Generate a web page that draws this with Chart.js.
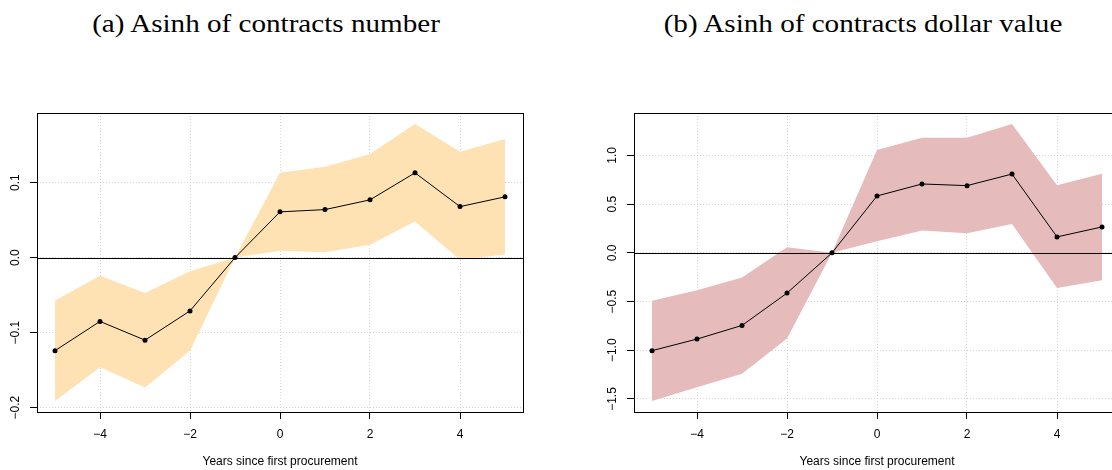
<!DOCTYPE html>
<html><head><meta charset="utf-8">
<script src="https://cdn.jsdelivr.net/npm/chart.js@4/dist/chart.umd.min.js"></script>
<style>
html,body{margin:0;padding:0;width:1112px;height:470px;overflow:hidden;background:#fff;position:relative}
.t{position:absolute;top:9px;font-family:"Liberation Serif",serif;font-size:26px;line-height:30px;white-space:nowrap;transform:translateX(-50%) scaleX(1.12);color:#000}
canvas{position:absolute;top:0}
</style></head><body>
<div class="t" style="left:266px">(a) Asinh of contracts number</div>
<div class="t" style="left:863px">(b) Asinh of contracts dollar value</div>
<canvas id="c1" width="556" height="470" style="left:0"></canvas>
<canvas id="c2" width="556" height="470" style="left:597px"></canvas>
<script>
const years = [-5,-4,-3,-2,-1,0,1,2,3,4,5];
const xTicks = [-4,-2,0,2,4];
const xTickLabels = ['\u22124','\u22122','0','2','4'];
const xTitle = 'Years since first procurement';

const numberEst   = [-0.124,-0.085,-0.110,-0.071,0,0.061,0.064,0.077,0.113,0.068,0.081];
const numberUpper = [-0.057,-0.024,-0.047,-0.018,0,0.113,0.121,0.138,0.178,0.141,0.158];
const numberLower = [-0.191,-0.146,-0.173,-0.124,0,0.009,0.007,0.017,0.048,-0.003,0.004];
const yTicksNumber = [-0.2,-0.1,0,0.1];
const yTickLabelsNumber = ['\u22120.2','\u22120.1','0.0','0.1'];

const valueEst   = [-1.004,-0.885,-0.745,-0.413,0,0.584,0.707,0.690,0.809,0.164,0.266];
const valueUpper = [-0.492,-0.383,-0.253,0.058,0,1.055,1.182,1.182,1.322,0.693,0.813];
const valueLower = [-1.520,-1.380,-1.240,-0.878,0,0.120,0.229,0.202,0.297,-0.362,-0.280];
const yTicksValue = [-1.5,-1,-0.5,0,0.5,1];
const yTickLabelsValue = ['\u22121.5','\u22121.0','\u22120.5','0.0','0.5','1.0'];

const rPlot = {
  id: 'rplot',
  afterDatasetDraw(chart, args) {
    if (args.index !== 1) return;
    const {ctx, chartArea: a, scales: {y}} = chart;
    const y0 = Math.round(y.getPixelForValue(0)) + 0.5;
    ctx.save();
    ctx.strokeStyle = '#000'; ctx.lineWidth = 1;
    ctx.beginPath(); ctx.moveTo(a.left, y0); ctx.lineTo(a.right, y0); ctx.stroke();
    ctx.restore();
  },
  afterDraw(chart, args, opts) {
    const {ctx, chartArea: a, scales: {y}} = chart;
    ctx.save();
    ctx.strokeStyle = '#000'; ctx.lineWidth = 1;
    ctx.strokeRect(Math.round(a.left) + 0.5, Math.round(a.top) + 0.5,
                   Math.round(a.right - a.left), Math.round(a.bottom - a.top));
    ctx.fillStyle = '#000';
    ctx.font = '12px "Liberation Sans", Arial, sans-serif';
    ctx.textAlign = 'center'; ctx.textBaseline = 'middle';
    y.ticks.forEach((t, i) => {
      const py = y.getPixelForValue(t.value);
      ctx.save();
      ctx.translate(a.left - 21.5, py);
      ctx.rotate(-Math.PI / 2);
      ctx.fillText(opts.labels[i], 0, 0);
      ctx.restore();
    });
    ctx.restore();
  }
};

function makeChart(id, est, upper, lower, yTicks, yLabels, band) {
  const all = upper.concat(lower);
  const lo = Math.min(...all), hi = Math.max(...all), r = hi - lo;
  const pts = arr => years.map((x, i) => ({x, y: arr[i]}));
  new Chart(document.getElementById(id), {
    type: 'line',
    data: {
      datasets: [
        {data: pts(est), borderColor: '#000', borderWidth: 1, pointRadius: 2.5,
         pointBackgroundColor: '#000', pointBorderWidth: 0, fill: false, tension: 0, order: 0},
        {data: pts(upper), borderColor: 'rgba(0,0,0,0)', borderWidth: 0, pointRadius: 0,
         backgroundColor: band, fill: '+1', tension: 0, order: 2},
        {data: pts(lower), borderColor: 'rgba(0,0,0,0)', borderWidth: 0, pointRadius: 0,
         fill: false, tension: 0, order: 3}
      ]
    },
    options: {
      responsive: false, animation: false, devicePixelRatio: 1,
      layout: {padding: {top: 113, right: 33, left: 0, bottom: 0}},
      plugins: {legend: {display: false}, tooltip: {enabled: false}, rplot: {labels: yLabels}},
      scales: {
        x: {
          type: 'linear', min: -5.4, max: 5.4,
          afterBuildTicks: s => { s.ticks = xTicks.map(v => ({value: v})); },
          afterFit: s => { s.height = 58; },
          ticks: {callback: (v, i) => xTickLabels[i], color: '#000', padding: 8,
                  maxRotation: 0, autoSkip: false,
                  font: {family: '"Liberation Sans", Arial, sans-serif', size: 12}},
          grid: {color: '#d3d3d3', lineWidth: 1, tickLength: 7, tickColor: '#000',
                 tickWidth: 1, tickBorderDash: []},
          border: {display: false, dash: [1, 2]},
          title: {display: true, text: xTitle, color: '#000', padding: {top: 0, bottom: 1},
                  font: {family: '"Liberation Sans", Arial, sans-serif', size: 12}}
        },
        y: {
          type: 'linear', min: lo - 0.04 * r, max: hi + 0.04 * r,
          afterBuildTicks: s => { s.ticks = yTicks.map(v => ({value: v})); },
          afterFit: s => { s.width = 37; },
          ticks: {display: false},
          grid: {color: '#d3d3d3', lineWidth: 1, tickLength: 7, tickColor: '#000',
                 tickWidth: 1, tickBorderDash: []},
          border: {display: false, dash: [1, 2]}
        }
      }
    },
    plugins: [rPlot]
  });
}

makeChart('c1', numberEst, numberUpper, numberLower, yTicksNumber, yTickLabelsNumber, '#FFE2B3');
makeChart('c2', valueEst, valueUpper, valueLower, yTicksValue, yTickLabelsValue, '#E5BBBC');
</script>
</body></html>
